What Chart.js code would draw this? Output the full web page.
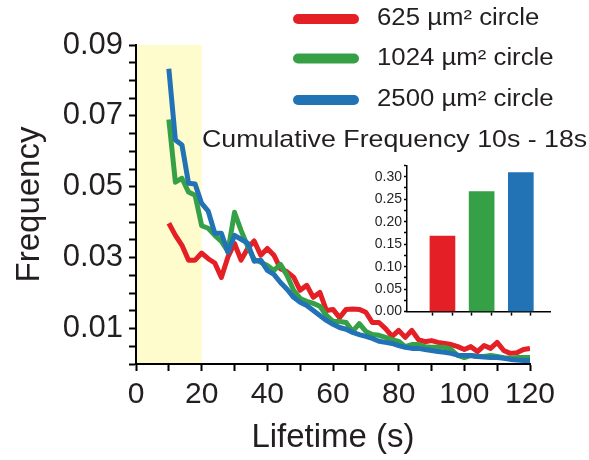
<!DOCTYPE html>
<html>
<head>
<meta charset="utf-8">
<script src="https://cdn.jsdelivr.net/npm/chart.js@4.4.0/dist/chart.umd.min.js"></script>
<style>
html,body{margin:0;padding:0;background:#fff;}
#wrap{position:relative;width:589px;height:460px;overflow:hidden;}
#main{position:absolute;left:0;top:0;}
#inset{position:absolute;left:201px;top:112px;}
</style>
</head>
<body>
<div id="wrap">
<canvas id="main" width="589" height="460"></canvas>
<canvas id="inset" width="388" height="210"></canvas>
</div>
<script>
// ---- data ----
const lifetimes = [10,12,14,16,18,20,22,24,26,28,30,32,34,36,38,40,42,44,46,48,50,52,54,56,58,60,62,64,66,68,70,72,74,76,78,80,82,84,86,88,90,92,94,96,98,100,102,104,106,108,110,112,114,116,118,120];
const freq625 = [0.0397,0.0363,0.0335,0.0293,0.0293,0.0313,0.0297,0.0285,0.0244,0.0302,0.0340,0.0293,0.0326,0.0347,0.0307,0.0326,0.0307,0.0269,0.0260,0.0245,0.0208,0.0222,0.0188,0.0202,0.0151,0.0154,0.0131,0.0154,0.0155,0.0154,0.0146,0.0117,0.0117,0.0100,0.0078,0.0095,0.0075,0.0095,0.0069,0.0063,0.0066,0.0061,0.0058,0.0055,0.0049,0.0041,0.0049,0.0035,0.0052,0.0044,0.0061,0.0038,0.0030,0.0032,0.0041,0.0044];
const freq1024 = [0.0690,0.0513,0.0524,0.0485,0.0476,0.0390,0.0383,0.0363,0.0346,0.0318,0.0428,0.0377,0.0332,0.0295,0.0287,0.0278,0.0264,0.0281,0.0250,0.0208,0.0185,0.0177,0.0171,0.0163,0.0137,0.0120,0.0120,0.0117,0.0092,0.0114,0.0092,0.0083,0.0081,0.0075,0.0069,0.0064,0.0049,0.0055,0.0055,0.0049,0.0047,0.0047,0.0047,0.0041,0.0024,0.0018,0.0024,0.0021,0.0021,0.0024,0.0021,0.0018,0.0016,0.0018,0.0018,0.0018];
const freq2500 = [0.0833,0.0632,0.0618,0.0510,0.0508,0.0453,0.0431,0.0369,0.0369,0.0315,0.0363,0.0352,0.0341,0.0290,0.0293,0.0264,0.0253,0.0230,0.0211,0.0188,0.0174,0.0165,0.0151,0.0137,0.0123,0.0112,0.0103,0.0098,0.0089,0.0083,0.0078,0.0072,0.0064,0.0061,0.0058,0.0052,0.0047,0.0044,0.0044,0.0041,0.0038,0.0035,0.0033,0.0030,0.0025,0.0024,0.0024,0.0021,0.0020,0.0018,0.0018,0.0016,0.0013,0.0011,0.0010,0.0010];
const seriesLabels = ['625 µm² circle', '1024 µm² circle', '2500 µm² circle'];
const xLabelValues = [0, 20, 40, 60, 80, 100, 120];
const yLabelValues = ['0.01', '0.03', '0.05', '0.07', '0.09'];
const highlightRange = [0, 20];
const xTitle = 'Lifetime (s)';
const yTitle = 'Frequency';

const cumCategories = ['625 µm²', '1024 µm²', '2500 µm²'];
const cumFrequency = [0.168, 0.267, 0.309];
const insetYLabels = ['0.00', '0.05', '0.10', '0.15', '0.20', '0.25', '0.30'];
const insetTitle = 'Cumulative Frequency 10s - 18s';

// ---- styles ----
const RED = '#e41f26', GREEN = '#36a047', BLUE = '#2273b5';
const COLORS = [RED, GREEN, BLUE];
const TXT = '#231f20';
const FAM = '"Liberation Sans", Arial, Helvetica, sans-serif';
const STRETCH = 1.12;

const bandPlugin = {
  id: 'band',
  beforeDraw(chart) {
    const {ctx, chartArea, scales} = chart;
    const x0 = scales.x.getPixelForValue(highlightRange[0]);
    const x1 = scales.x.getPixelForValue(highlightRange[1]);
    ctx.save();
    ctx.fillStyle = '#fefbcc';
    ctx.fillRect(x0, chartArea.top, x1 - x0, chartArea.bottom - chartArea.top);
    ctx.restore();
  }
};

const legendPlugin = {
  id: 'customLegend',
  afterDraw(chart) {
    const ctx = chart.ctx;
    const rows = [19, 58.5, 100];
    chart.data.datasets.forEach((ds) => {
      const y = rows[ds.legendIndex];
      ctx.save();
      ctx.strokeStyle = ds.borderColor;
      ctx.lineWidth = 10;
      ctx.lineCap = 'round';
      ctx.beginPath();
      ctx.moveTo(298, y);
      ctx.lineTo(354, y);
      ctx.stroke();
      ctx.fillStyle = TXT;
      ctx.font = '23px ' + FAM;
      ctx.textAlign = 'left';
      ctx.textBaseline = 'middle';
      ctx.translate(377, y);
      ctx.scale(STRETCH, 1);
      ctx.fillText(ds.label, 0, 0);
      ctx.restore();
    });
  }
};

const insetTitlePlugin = {
  id: 'insetTitle',
  afterDraw(chart) {
    const ctx = chart.ctx;
    ctx.save();
    ctx.font = '24px ' + FAM;
    ctx.fillStyle = TXT;
    ctx.textAlign = 'left';
    ctx.textBaseline = 'alphabetic';
    ctx.translate(1, 34.5);
    ctx.scale(1.115, 1);
    ctx.fillText(insetTitle, 0, 0);
    ctx.restore();
  }
};

function series(vals) { return lifetimes.map((x, i) => ({x: x, y: vals[i]})); }

new Chart(document.getElementById('main'), {
  type: 'line',
  data: {
    datasets: [
      {label: seriesLabels[0], data: series(freq625), borderColor: RED, order: 3, legendIndex: 0},
      {label: seriesLabels[1], data: series(freq1024), borderColor: GREEN, order: 2, legendIndex: 1},
      {label: seriesLabels[2], data: series(freq2500), borderColor: BLUE, order: 1, legendIndex: 2}
    ]
  },
  options: {
    responsive: false,
    animation: false,
    devicePixelRatio: 1,
    layout: {padding: {top: 45, right: 59, left: 0, bottom: 0}},
    plugins: {legend: {display: false}, tooltip: {enabled: false}},
    elements: {
      point: {radius: 0},
      line: {borderWidth: 5, tension: 0, fill: false, borderJoinStyle: 'round'}
    },
    scales: {
      x: {
        type: 'linear', min: 0, max: 120,
        ticks: {
          stepSize: 10, autoSkip: false, maxRotation: 0, padding: 6,
          color: TXT, font: {size: 30, family: FAM},
          callback: v => xLabelValues.includes(v) ? String(v) : ''
        },
        grid: {drawOnChartArea: false, drawTicks: true, tickLength: 7, tickWidth: 2, tickColor: '#000'},
        border: {color: '#000', width: 2},
        title: {display: true, text: xTitle, color: TXT, font: {size: 33, family: FAM}, padding: {top: 0, bottom: 2}},
        afterFit: s => { s.height = 96; }
      },
      y: {
        type: 'linear', min: 0, max: 0.09,
        ticks: {
          stepSize: 0.005, autoSkip: false, padding: 6,
          color: TXT, font: {size: 31, family: FAM},
          callback: v => { const t = v.toFixed(2); return (yLabelValues.includes(t) && Math.abs(v - parseFloat(t)) < 1e-6) ? t : ''; }
        },
        grid: {drawOnChartArea: false, drawTicks: true, tickLength: 7, tickWidth: 2, tickColor: '#000'},
        border: {color: '#000', width: 2},
        title: {display: true, text: yTitle, color: TXT, font: {size: 33, family: FAM}, padding: {top: 10, bottom: 0}},
        afterFit: s => { s.width = 136; }
      }
    }
  },
  plugins: [bandPlugin, legendPlugin]
});

// ---- inset ----
new Chart(document.getElementById('inset'), {
  type: 'bar',
  data: {
    labels: cumCategories,
    datasets: [{
      label: 'Cumulative Frequency',
      data: cumFrequency.map((v, i) => ({x: i, y: v})),
      backgroundColor: COLORS,
      borderWidth: 0,
      barThickness: 25
    }]
  },
  options: {
    responsive: false,
    animation: false,
    devicePixelRatio: 1,
    layout: {padding: {top: 53.5, right: 38.6, left: 0, bottom: 0}},
    plugins: {legend: {display: false}, tooltip: {enabled: false}, title: {display: false}},
    scales: {
      x: {
        type: 'linear', min: -0.6, max: 2.45,
        ticks: {display: false, stepSize: 0.5, includeBounds: false},
        grid: {drawOnChartArea: false, drawTicks: true, tickLength: 4, tickWidth: 1.5,
               tickColor: c => (c.tick && c.tick.value < 0) ? 'rgba(0,0,0,0)' : '#000'},
        border: {color: '#000', width: 1.5},
        afterFit: s => { s.height = 6; }
      },
      y: {
        type: 'linear', min: 0, max: 0.325,
        ticks: {
          stepSize: 0.025, autoSkip: false, padding: 2,
          color: TXT, font: {size: 14, family: FAM},
          callback: v => { const t = v.toFixed(2); return (insetYLabels.includes(t) && Math.abs(v - parseFloat(t)) < 1e-6) ? t : ''; }
        },
        grid: {drawOnChartArea: false, drawTicks: true, tickLength: 3, tickWidth: 1.5, tickColor: '#000'},
        border: {color: '#000', width: 1.5},
        afterFit: s => { s.width = 206; }
      }
    }
  },
  plugins: [insetTitlePlugin]
});
</script>
</body>
</html>
